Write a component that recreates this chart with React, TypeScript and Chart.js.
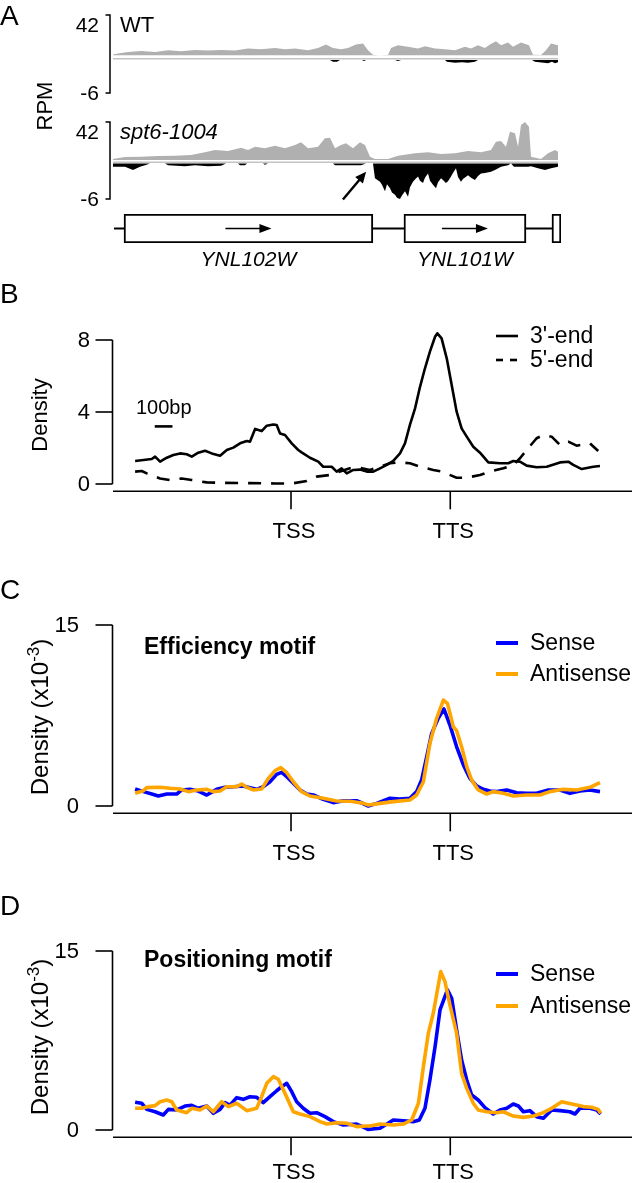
import React, { useEffect, useRef } from 'react';
import { Chart, registerables } from 'chart.js';

Chart.register(...registerables);

const FONT = '"Liberation Sans", Arial, Helvetica, sans-serif';

// ================= Panel A: RPM tracks (position = bp from window start) =================
const trackPosMax = 42;
const trackNegMin = -6;
const locusEnd = 7930;
const geneNames = ['YNL102W', 'YNL101W', ''];
const geneStarts = [195, 5150, 7770];
const geneEnds = [4600, 7310, 7930];

const wtPlus: [number, number][] = [
  [0, 0.8], [89, 1.8], [266, 3.5], [496, 4.6], [743, 3.5], [974, 5.3], [1204, 4.2], [1451, 5.6],
  [1682, 4.9], [1912, 5.6], [2159, 4.9], [2390, 7.0], [2620, 6.3], [2867, 7.7], [3044, 6.3],
  [3221, 7.0], [3452, 5.3], [3629, 7.7], [3770, 11.2], [3894, 7.7], [4036, 6.3], [4160, 7.7],
  [4301, 11.2], [4425, 12.3], [4514, 5.3], [4602, 0.7], [4691, 0], [4868, 0.2], [4921, 7.7],
  [5045, 10.5], [5222, 8.8], [5399, 7.0], [5522, 9.5], [5699, 7.0], [5876, 6.3], [6053, 5.3],
  [6230, 8.8], [6337, 7.0], [6461, 10.5], [6584, 7.7], [6673, 11.2], [6779, 14.7], [6868, 10.5],
  [6992, 13.3], [7080, 8.8], [7222, 13.3], [7363, 10.5], [7434, 0.7], [7576, 0.3], [7664, 5.3],
  [7753, 12.3], [7877, 10.5],
];
const wtMinus: [number, number][] = [
  [0, 0], [3841, 0], [3894, -0.3], [3965, -0.3], [4018, 0], [4407, 0], [4443, -0.2], [4478, 0],
  [4991, 0], [5045, -0.2], [5098, 0], [5876, 0], [5912, -0.3], [6053, -0.5], [6177, -0.4],
  [6284, -0.5], [6407, -0.3], [6461, 0], [7416, 0], [7469, -0.3], [7700, -0.6], [7770, -0.3],
  [7823, -0.6], [7877, -0.4],
];
const spt6Plus: [number, number][] = [
  [0, 1.1], [212, 3.3], [496, 3.7], [797, 4.4], [1097, 4.8], [1381, 5.5], [1628, 8.5], [1805, 11],
  [2036, 9.9], [2266, 13.6], [2390, 11], [2513, 14.7], [2690, 12.9], [2867, 15.8], [3044, 12.9],
  [3221, 16.6], [3328, 19.6], [3452, 12.9], [3629, 14.7], [3752, 24], [3841, 24.6], [3929, 12.9],
  [4036, 16.6], [4124, 18.5], [4248, 12.9], [4372, 19.6], [4460, 16.6], [4549, 3.7], [4637, 1.1],
  [4868, 1.1], [5045, 4.8], [5345, 7.4], [5576, 8.5], [5806, 6.6], [6053, 7.4], [6284, 9.9],
  [6514, 8.5], [6691, 11], [6779, 20.2], [6868, 21], [6956, 14.7], [7027, 31.3], [7115, 29.5],
  [7169, 14.7], [7222, 38.7], [7292, 42], [7363, 36.8], [7399, 3.7], [7576, 1.1], [7700, 7.4],
  [7823, 11], [7877, 9.2],
];
const spt6Minus: [number, number][] = [
  [0, -0.56], [212, -0.56], [354, -1.1], [478, -0.56], [566, -0.28], [655, 0], [920, 0],
  [974, -0.28], [1274, -0.45], [1451, -0.28], [1682, -0.45], [1912, -0.4], [2000, 0], [2213, 0],
  [2248, -0.3], [2336, -0.3], [2372, 0], [2655, 0], [2690, -0.2], [2744, 0], [3894, 0],
  [3929, -0.28], [4390, -0.28], [4478, 0], [4602, 0], [4637, -2.5], [4726, -3.1], [4761, -3.6],
  [4814, -4.7], [4850, -3.5], [4903, -4.2], [4938, -4.9], [4991, -5.3], [5027, -5.8], [5080, -6],
  [5115, -5.4], [5168, -4.7], [5222, -5.6], [5257, -4.0], [5310, -3.1], [5345, -2.7], [5399, -2.2],
  [5434, -2.9], [5487, -3.3], [5522, -2.4], [5576, -1.7], [5611, -2.9], [5664, -3.6], [5717, -4.2],
  [5752, -3.2], [5806, -2.5], [5841, -2.8], [5894, -3.3], [5930, -3.0], [5983, -2.2], [6018, -1.6],
  [6071, -0.8], [6107, -2.3], [6160, -3.1], [6195, -2.6], [6284, -2.0], [6337, -2.4], [6407, -2.8],
  [6461, -2.1], [6514, -1.7], [6584, -1.6], [6691, -1.4], [6761, -1.1], [6868, -0.56], [6992, -0.28],
  [7045, 0], [7098, -0.56], [7346, -0.56], [7399, -0.45], [7523, -0.8], [7646, -1.1], [7753, -0.8],
  [7877, -0.56],
];
// arrow annotation (bp, RPM on minus-strand scale)
const arrowFrom: [number, number] = [4070, -6.1];
const arrowTo: [number, number] = [4480, -1.4];

// ================= Metagene panels (bp relative to TSS; TTS scaled to 900) =================
const mgTicks = [0, 900];
const mgTickLabels = ['TSS', 'TTS'];
const scaleBarBp = 100;

const bYTicks = [0, 4, 8];
const b3End: [number, number][] = [
  [-881, 1.28], [-834, 1.33], [-787, 1.39], [-768, 1.52], [-740, 1.24], [-702, 1.46], [-665, 1.61],
  [-627, 1.70], [-589, 1.65], [-561, 1.52], [-524, 1.74], [-486, 1.85], [-448, 1.70], [-401, 1.57],
  [-363, 1.89], [-326, 2.02], [-288, 2.26], [-250, 2.39], [-232, 2.35], [-203, 3.06], [-166, 2.94],
  [-137, 3.24], [-100, 3.31], [-81, 3.28], [-62, 2.81], [-34, 2.72], [4, 2.26], [41, 1.89],
  [60, 1.76], [107, 1.46], [154, 1.24], [182, 0.96], [230, 0.96], [258, 0.69], [286, 0.87],
  [315, 0.59], [352, 0.78], [390, 0.80], [428, 0.69], [465, 0.69], [503, 0.87], [541, 1.06],
  [578, 1.28], [616, 1.70], [644, 2.26], [672, 3.28], [701, 4.2], [729, 5.4], [757, 6.43],
  [785, 7.35], [814, 8.18], [827, 8.37], [851, 8.09], [880, 6.98], [908, 5.5], [936, 4.02],
  [964, 3.09], [993, 2.63], [1030, 2.07], [1068, 1.74], [1115, 1.20], [1181, 1.15], [1228, 1.15],
  [1256, 1.28], [1294, 1.24], [1332, 1.02], [1388, 0.93], [1445, 0.96], [1520, 1.20], [1567, 1.24],
  [1595, 1.06], [1643, 0.83], [1708, 0.96], [1746, 1.0],
];
const b5End: [number, number][] = [
  [-881, 0.69], [-844, 0.72], [-815, 0.59], [-740, 0.31], [-684, 0.22], [-618, 0.31], [-561, 0.22],
  [-476, 0.09], [-373, 0.06], [-232, 0.05], [-90, 0.03], [0, 0.02], [89, 0.17], [145, 0.41],
  [220, 0.5], [277, 0.69], [333, 0.87], [390, 0.9], [446, 0.78], [503, 0.96], [559, 1.15],
  [616, 1.20], [672, 1.15], [729, 0.96], [804, 0.78], [851, 0.69], [936, 0.35], [993, 0.35],
  [1068, 0.5], [1124, 0.69], [1200, 0.87], [1256, 1.06], [1294, 1.43], [1332, 1.89], [1388, 2.54],
  [1425, 2.72], [1473, 2.63], [1520, 2.17], [1567, 2.35], [1614, 2.13], [1689, 2.26], [1736, 1.83],
];

const motifYTicks = [0, 15];
const cSense: [number, number][] = [
  [-881, 1.41], [-834, 1.19], [-787, 0.99], [-750, 0.83], [-702, 0.99], [-646, 0.99], [-618, 1.33],
  [-571, 1.38], [-524, 1.24], [-476, 0.91], [-420, 1.38], [-373, 1.55], [-326, 1.60], [-270, 1.66],
  [-232, 1.52], [-194, 1.38], [-157, 1.60], [-119, 2.01], [-81, 2.62], [-53, 2.79], [-24, 2.43],
  [13, 1.88], [51, 1.33], [89, 0.99], [126, 0.91], [182, 0.55], [239, 0.28], [296, 0.44],
  [371, 0.44], [437, 0.0], [484, 0.22], [559, 0.64], [616, 0.58], [672, 0.64], [710, 1.19],
  [738, 2.15], [767, 4.09], [795, 6.02], [832, 7.27], [864, 8.04], [898, 6.71], [936, 4.91],
  [974, 3.40], [1011, 2.29], [1049, 1.66], [1087, 1.38], [1124, 1.24], [1162, 1.19], [1219, 1.33],
  [1275, 1.10], [1332, 1.05], [1388, 1.05], [1454, 1.33], [1520, 1.33], [1576, 1.05], [1633, 1.24],
  [1689, 1.33], [1746, 1.19],
];
const cAntisense: [number, number][] = [
  [-881, 1.05], [-834, 1.27], [-815, 1.52], [-740, 1.55], [-684, 1.47], [-627, 1.41], [-580, 1.19],
  [-533, 1.33], [-476, 1.38], [-439, 1.19], [-401, 1.24], [-363, 1.60], [-307, 1.60], [-279, 1.82],
  [-250, 1.55], [-213, 1.33], [-166, 1.41], [-128, 2.29], [-90, 2.93], [-58, 3.18], [-24, 2.76],
  [13, 2.01], [60, 1.19], [107, 0.83], [182, 0.64], [258, 0.41], [333, 0.39], [409, 0.22],
  [437, 0.08], [503, 0.22], [578, 0.36], [672, 0.50], [710, 0.91], [748, 2.01], [785, 5.19],
  [823, 7.27], [861, 8.78], [884, 8.51], [917, 6.57], [936, 6.24], [964, 4.91], [993, 3.26],
  [1021, 2.15], [1058, 1.33], [1106, 0.99], [1143, 1.19], [1200, 1.05], [1256, 0.83], [1332, 0.91],
  [1407, 0.91], [1463, 1.19], [1539, 1.38], [1614, 1.33], [1689, 1.55], [1746, 1.93],
];
const dSense: [number, number][] = [
  [-881, 2.32], [-844, 2.24], [-815, 1.73], [-768, 1.53], [-722, 1.26], [-693, 1.73], [-646, 1.68],
  [-599, 2.01], [-561, 2.07], [-524, 1.82], [-476, 2.01], [-439, 1.40], [-401, 1.73], [-373, 2.29],
  [-345, 2.07], [-307, 2.71], [-270, 2.57], [-232, 2.79], [-194, 2.74], [-157, 2.29], [-119, 2.79],
  [-81, 3.29], [-53, 3.63], [-24, 3.91], [4, 3.21], [32, 2.37], [69, 1.82], [107, 1.40], [145, 1.45],
  [192, 1.12], [239, 0.70], [296, 0.42], [371, 0.50], [400, 0.3], [435, 0.05], [503, 0.14],
  [578, 0.84], [635, 0.78], [691, 0.70], [725, 0.84], [757, 1.82], [785, 4.19], [814, 6.98],
  [842, 10.06], [884, 11.74], [908, 11.04], [936, 8.38], [964, 5.87], [993, 4.19], [1021, 2.93],
  [1058, 2.51], [1096, 1.87], [1143, 1.34], [1181, 1.68], [1219, 1.82], [1256, 2.18], [1285, 2.01],
  [1313, 1.53], [1350, 1.62], [1388, 1.12], [1426, 0.98], [1473, 1.68], [1520, 1.62], [1576, 1.53],
  [1605, 1.34], [1633, 1.82], [1689, 1.82], [1727, 1.68], [1750, 1.34],
];
const dAntisense: [number, number][] = [
  [-881, 1.82], [-844, 1.82], [-806, 1.96], [-768, 2.04], [-740, 2.37], [-702, 2.51], [-674, 2.37],
  [-646, 1.68], [-590, 1.45], [-561, 1.82], [-514, 1.68], [-476, 2.01], [-439, 1.53], [-392, 2.37],
  [-354, 1.96], [-307, 2.24], [-250, 1.62], [-194, 1.82], [-166, 2.79], [-137, 3.91], [-100, 4.47],
  [-72, 4.25], [-34, 3.07], [13, 1.53], [51, 1.34], [107, 1.12], [164, 0.70], [202, 0.50],
  [258, 0.61], [315, 0.56], [371, 0.28], [428, 0.34], [446, 0.34], [503, 0.50], [578, 0.42],
  [635, 0.50], [682, 0.84], [720, 2.24], [748, 5.31], [776, 8.10], [804, 9.78], [846, 13.27],
  [870, 12.43], [898, 10.48], [936, 8.10], [964, 4.75], [993, 3.49], [1030, 2.24], [1058, 1.68],
  [1106, 1.53], [1162, 1.45], [1200, 1.53], [1256, 1.17], [1313, 1.06], [1370, 1.17], [1425, 1.45],
  [1473, 1.82], [1530, 2.37], [1567, 2.24], [1614, 2.09], [1652, 1.96], [1699, 1.90], [1736, 1.73],
  [1750, 1.40],
];

// ================= layout / style constants =================
const W = 633;
const MG_MIN = -1006;
const MG_MAX = 1927;
const AX_LEFT = 113;
const AX_RIGHT = 632;
const TRACK_LEFT = 113;
const TRACK_RIGHT = 561;
const BLUE = '#0000ff';
const ORANGE = '#ffa500';
const GRAY = '#b0b0b0';

function font(size: number, style = '') {
  return `${style} ${size}px ${FONT}`.trim();
}
function txt(ctx: CanvasRenderingContext2D, s: string, x: number, y: number, size: number,
  o: { align?: CanvasTextAlign; baseline?: CanvasTextBaseline; style?: string; color?: string } = {}) {
  ctx.save();
  ctx.font = font(size, o.style || '');
  ctx.textAlign = o.align || 'left';
  ctx.textBaseline = o.baseline || 'alphabetic';
  ctx.fillStyle = o.color || '#000';
  ctx.fillText(s, x, y);
  ctx.restore();
}
function seg(ctx: CanvasRenderingContext2D, x1: number, y1: number, x2: number, y2: number) {
  ctx.beginPath();
  ctx.moveTo(x1, y1);
  ctx.lineTo(x2, y2);
  ctx.stroke();
}
function rotLabel(ctx: CanvasRenderingContext2D, x: number, cy: number, main: string, size: number,
  sup?: string, supSize?: number) {
  ctx.save();
  ctx.translate(x, cy);
  ctx.rotate(-Math.PI / 2);
  ctx.fillStyle = '#000';
  ctx.textAlign = 'left';
  ctx.textBaseline = 'alphabetic';
  ctx.font = font(size);
  const w1 = ctx.measureText(main).width;
  let w2 = 0;
  let w3 = 0;
  if (sup) {
    ctx.font = font(supSize || size);
    w2 = ctx.measureText(sup).width;
    ctx.font = font(size);
    w3 = ctx.measureText(')').width;
  }
  let cx = -(w1 + w2 + w3) / 2;
  ctx.font = font(size);
  ctx.fillText(main, cx, 0);
  cx += w1;
  if (sup) {
    ctx.font = font(supSize || size);
    ctx.fillText(sup, cx, -size * 0.38);
    cx += w2;
    ctx.font = font(size);
    ctx.fillText(')', cx, 0);
  }
  ctx.restore();
}
function arrowHead(ctx: CanvasRenderingContext2D, x1: number, y1: number, x2: number, y2: number, len: number, half: number) {
  const a = Math.atan2(y2 - y1, x2 - x1);
  ctx.beginPath();
  ctx.moveTo(x2, y2);
  ctx.lineTo(x2 - len * Math.cos(a) + half * Math.sin(a), y2 - len * Math.sin(a) - half * Math.cos(a));
  ctx.lineTo(x2 - len * Math.cos(a) - half * Math.sin(a), y2 - len * Math.sin(a) + half * Math.cos(a));
  ctx.closePath();
  ctx.fill();
}

const baseOptions = {
  responsive: false,
  animation: false,
  events: [] as string[],
  plugins: { legend: { display: false }, tooltip: { enabled: false }, title: { display: false } },
};

// ---------- track chart ----------
interface TrackSpec {
  top: number; height: number;
  pxTop: number; pxZeroPos: number; pxZeroNeg: number; pxBottom: number;
  plus: [number, number][]; minus: [number, number][];
  label: string; labelItalic: boolean;
  extra?: (ctx: CanvasRenderingContext2D, chart: any) => void;
}
function trackConfig(s: TrackSpec) {
  const posPpu = (s.pxZeroPos - s.pxTop) / trackPosMax;
  const yPmin = -(s.pxBottom - s.pxZeroPos) / posPpu;
  const negPpu = (s.pxBottom - s.pxZeroNeg) / -trackNegMin;
  const yNmax = (s.pxZeroNeg - s.pxTop) / negPpu;
  const trackEnd = s.plus[s.plus.length - 1][0];
  return {
    type: 'line',
    data: {
      datasets: [
        { data: s.plus.map(([x, y]) => ({ x, y })), yAxisID: 'yP', fill: 'origin', backgroundColor: GRAY, borderWidth: 0, pointRadius: 0, tension: 0 },
        { data: s.minus.map(([x, y]) => ({ x, y })), yAxisID: 'yN', fill: 'origin', backgroundColor: '#000', borderWidth: 0, pointRadius: 0, tension: 0 },
      ],
    },
    options: {
      ...baseOptions,
      layout: { padding: { left: TRACK_LEFT, right: W - TRACK_RIGHT, top: s.pxTop - s.top, bottom: s.height - (s.pxBottom - s.top) } },
      scales: {
        x: { type: 'linear', min: 0, max: locusEnd, display: false },
        yP: { type: 'linear', position: 'left', min: yPmin, max: trackPosMax, display: false },
        yN: { type: 'linear', position: 'left', min: trackNegMin, max: yNmax, display: false },
      },
    },
    plugins: [{
      id: 'track',
      afterDatasetsDraw(chart: any) {
        const ctx: CanvasRenderingContext2D = chart.ctx;
        const { left } = chart.chartArea;
        const yP = chart.scales.yP;
        const yN = chart.scales.yN;
        const xs = chart.scales.x;
        ctx.save();
        ctx.strokeStyle = '#c4c4c4';
        ctx.lineWidth = 1.6;
        const by = yN.getPixelForValue(0) - 1.3;
        seg(ctx, left, by, xs.getPixelForValue(trackEnd), by);
        ctx.strokeStyle = '#000';
        ctx.lineWidth = 1.5;
        const top = yP.getPixelForValue(trackPosMax);
        const bot = yN.getPixelForValue(trackNegMin);
        ctx.beginPath();
        ctx.moveTo(left - 7.5, top);
        ctx.lineTo(left - 3, top);
        ctx.lineTo(left - 3, bot);
        ctx.lineTo(left - 7.5, bot);
        ctx.stroke();
        txt(ctx, String(trackPosMax), 99, top + 16.5, 21, { align: 'right' });
        txt(ctx, String(trackNegMin), 99, bot + 7, 21, { align: 'right' });
        txt(ctx, s.label, 120, top + 16.5, 22, { style: s.labelItalic ? 'italic' : '' });
        if (s.extra) s.extra(ctx, chart);
        ctx.restore();
      },
    }],
  };
}

function geneConfig(top: number, height: number) {
  const boxTop = 214;
  const boxBottom = 243;
  return {
    type: 'bar',
    data: {
      labels: ['locus'],
      datasets: [{
        data: geneStarts.map((st, i) => ({ x: [st, geneEnds[i]], y: 'locus' })),
        backgroundColor: '#fff', borderColor: '#000', borderWidth: 2, borderSkipped: false,
        barPercentage: 1, categoryPercentage: 1,
      }],
    },
    options: {
      ...baseOptions,
      indexAxis: 'y',
      layout: { padding: { left: TRACK_LEFT, right: W - TRACK_RIGHT, top: boxTop - top, bottom: height - (boxBottom - top) } },
      scales: {
        x: { type: 'linear', min: 0, max: locusEnd, display: false },
        y: { type: 'category', display: false },
      },
    },
    plugins: [{
      id: 'genes',
      beforeDatasetsDraw(chart: any) {
        const ctx: CanvasRenderingContext2D = chart.ctx;
        const xs = chart.scales.x;
        const cy = (chart.chartArea.top + chart.chartArea.bottom) / 2;
        ctx.save();
        ctx.strokeStyle = '#000';
        ctx.lineWidth = 1.8;
        seg(ctx, xs.getPixelForValue(0) + 1, cy, xs.getPixelForValue(locusEnd), cy);
        ctx.restore();
      },
      afterDatasetsDraw(chart: any) {
        const ctx: CanvasRenderingContext2D = chart.ctx;
        const xs = chart.scales.x;
        const cy = (chart.chartArea.top + chart.chartArea.bottom) / 2;
        ctx.save();
        ctx.strokeStyle = '#000';
        ctx.fillStyle = '#000';
        ctx.lineWidth = 1.6;
        geneNames.forEach((name, i) => {
          if (!name) return;
          const c = xs.getPixelForValue((geneStarts[i] + geneEnds[i]) / 2);
          seg(ctx, c - 23, cy, c + 14, cy);
          arrowHead(ctx, c - 23, cy, c + 23, cy, 12, 4.5);
          txt(ctx, name, c, 266 - top, 21, { align: 'center', style: 'italic' });
        });
        ctx.restore();
      },
    }],
  };
}

// ---------- metagene panels ----------
interface Series { pts: [number, number][]; color: string; width: number; dash?: number[]; order: number; }
interface LegendItem { label: string; color: string; width: number; dash?: number[]; y: number; }
interface PanelSpec {
  top: number; height: number;
  zeroPx: number; refVal: number; refPx: number; yMin: number; yMax: number;
  series: Series[];
  letter: string; letterBaseline: number;
  yTicks: number[]; yLabelRight: number;
  yTitle: string; yTitleSup?: string; yTitleSize: number; yTitleX: number; yTitleCenter: number;
  title?: string; titleBaseline?: number;
  legend: LegendItem[];
  xLabelOffset: number;
  extra?: (ctx: CanvasRenderingContext2D, chart: any) => void;
}
function panelConfig(s: PanelSpec) {
  const ppu = (s.zeroPx - s.refPx) / s.refVal;
  const padTop = s.zeroPx - s.yMax * ppu - s.top;
  const padBottom = s.height - (s.zeroPx - s.yMin * ppu - s.top);
  const T = s.top;
  return {
    type: 'line',
    data: {
      datasets: s.series.map((d) => ({
        data: d.pts.map(([x, y]) => ({ x, y })),
        borderColor: d.color, borderWidth: d.width, borderDash: d.dash || [],
        pointRadius: 0, fill: false, tension: 0, order: d.order,
        borderJoinStyle: 'round', borderCapStyle: 'butt',
      })),
    },
    options: {
      ...baseOptions,
      layout: { padding: { left: AX_LEFT, right: W - AX_RIGHT, top: padTop, bottom: padBottom } },
      scales: {
        x: { type: 'linear', min: MG_MIN, max: MG_MAX, display: false },
        y: { type: 'linear', min: s.yMin, max: s.yMax, display: false },
      },
    },
    plugins: [{
      id: 'panel' + s.letter,
      afterDraw(chart: any) {
        const ctx: CanvasRenderingContext2D = chart.ctx;
        const xs = chart.scales.x;
        const ys = chart.scales.y;
        const area = chart.chartArea;
        ctx.save();
        ctx.strokeStyle = '#000';
        ctx.fillStyle = '#000';
        ctx.lineWidth = 1.6;
        // y axis
        const yax = area.left - 0.5;
        seg(ctx, yax, ys.getPixelForValue(s.yTicks[0]), yax, ys.getPixelForValue(s.yTicks[s.yTicks.length - 1]));
        s.yTicks.forEach((v) => {
          const py = ys.getPixelForValue(v);
          seg(ctx, yax - 17, py, yax, py);
          txt(ctx, String(v), s.yLabelRight, py + 1, 22, { align: 'right', baseline: 'middle' });
        });
        // x axis
        const axY = ys.getPixelForValue(0) + 7.3;
        seg(ctx, area.left, axY, area.right, axY);
        mgTicks.forEach((v, i) => {
          const px = xs.getPixelForValue(v);
          seg(ctx, px, axY, px, axY + 18);
          txt(ctx, mgTickLabels[i], px + 3, axY + s.xLabelOffset, 22, { align: 'center', baseline: 'middle' });
        });
        // panel letter
        txt(ctx, s.letter, 0, s.letterBaseline - T, 28);
        // y title
        rotLabel(ctx, s.yTitleX, s.yTitleCenter - T, s.yTitle, s.yTitleSize, s.yTitleSup, 17);
        // title
        if (s.title) txt(ctx, s.title, 144, (s.titleBaseline || 0) - T, 23, { style: 'bold' });
        // legend
        s.legend.forEach((it) => {
          ctx.save();
          ctx.strokeStyle = it.color;
          ctx.lineWidth = it.width;
          ctx.setLineDash(it.dash || []);
          seg(ctx, 496, it.y - T, 518, it.y - T);
          ctx.restore();
          txt(ctx, it.label, 530, it.y - T + 1, 23, { baseline: 'middle' });
        });
        if (s.extra) s.extra(ctx, chart);
        ctx.restore();
      },
    }],
  };
}

const panelB: PanelSpec = {
  top: 280, height: 265, zeroPx: 484, refVal: 8, refPx: 340, yMin: -0.5, yMax: 9.5,
  series: [
    { pts: b3End, color: '#000', width: 2.6, order: 0 },
    { pts: b5End, color: '#000', width: 2.6, dash: [13, 10], order: 1 },
  ],
  letter: 'B', letterBaseline: 303,
  yTicks: bYTicks, yLabelRight: 90,
  yTitle: 'Density', yTitleSize: 22, yTitleX: 47, yTitleCenter: 415,
  legend: [
    { label: "3'-end", color: '#000', width: 2.6, y: 336 },
    { label: "5'-end", color: '#000', width: 2.6, dash: [7, 7], y: 360 },
  ],
  xLabelOffset: 41,
  extra: (ctx, chart) => {
    const xs = chart.scales.x;
    const ys = chart.scales.y;
    const x0 = xs.getPixelForValue(-770);
    const x1 = xs.getPixelForValue(-770 + scaleBarBp);
    const y = ys.getPixelForValue(3.2);
    ctx.save();
    ctx.lineWidth = 2.6;
    ctx.strokeStyle = '#000';
    seg(ctx, x0, y, x1, y);
    ctx.restore();
    txt(ctx, `${scaleBarBp}bp`, 136, 414 - 280, 20);
  },
};

const panelC: PanelSpec = {
  top: 560, height: 320, zeroPx: 806, refVal: 15, refPx: 625, yMin: -0.7, yMax: 16,
  series: [
    { pts: cSense, color: BLUE, width: 3.6, order: 1 },
    { pts: cAntisense, color: ORANGE, width: 3.6, order: 0 },
  ],
  letter: 'C', letterBaseline: 599,
  yTicks: motifYTicks, yLabelRight: 79,
  yTitle: 'Density (x10', yTitleSup: '-3', yTitleSize: 24, yTitleX: 48, yTitleCenter: 717,
  title: 'Efficiency motif', titleBaseline: 654,
  legend: [
    { label: 'Sense', color: BLUE, width: 4, y: 643 },
    { label: 'Antisense', color: ORANGE, width: 4, y: 674 },
  ],
  xLabelOffset: 41,
};

const panelD: PanelSpec = {
  top: 880, height: 303, zeroPx: 1130, refVal: 15, refPx: 951, yMin: -0.7, yMax: 16,
  series: [
    { pts: dSense, color: BLUE, width: 3.6, order: 1 },
    { pts: dAntisense, color: ORANGE, width: 3.6, order: 0 },
  ],
  letter: 'D', letterBaseline: 915,
  yTicks: motifYTicks, yLabelRight: 79,
  yTitle: 'Density (x10', yTitleSup: '-3', yTitleSize: 24, yTitleX: 48, yTitleCenter: 1037,
  title: 'Positioning motif', titleBaseline: 967,
  legend: [
    { label: 'Sense', color: BLUE, width: 4, y: 974 },
    { label: 'Antisense', color: ORANGE, width: 4, y: 1006 },
  ],
  xLabelOffset: 36,
};

const trackWT: TrackSpec = {
  top: 0, height: 135, pxTop: 15, pxZeroPos: 55.3, pxZeroNeg: 60, pxBottom: 93,
  plus: wtPlus, minus: wtMinus, label: 'WT', labelItalic: false,
  extra: (ctx) => {
    txt(ctx, 'A', 0, 25, 28);
    rotLabel(ctx, 52, 106, 'RPM', 22);
  },
};
const trackSpt6: TrackSpec = {
  top: 110, height: 100, pxTop: 122, pxZeroPos: 160, pxZeroNeg: 163.5, pxBottom: 199,
  plus: spt6Plus, minus: spt6Minus, label: 'spt6-1004', labelItalic: true,
  extra: (ctx, chart) => {
    const xs = chart.scales.x;
    const yN = chart.scales.yN;
    const x1 = xs.getPixelForValue(arrowFrom[0]);
    const y1 = yN.getPixelForValue(arrowFrom[1]);
    const x2 = xs.getPixelForValue(arrowTo[0]);
    const y2 = yN.getPixelForValue(arrowTo[1]);
    ctx.save();
    ctx.strokeStyle = '#000';
    ctx.fillStyle = '#000';
    ctx.lineWidth = 2.4;
    const a = Math.atan2(y2 - y1, x2 - x1);
    seg(ctx, x1, y1, x2 - 8 * Math.cos(a), y2 - 8 * Math.sin(a));
    arrowHead(ctx, x1, y1, x2, y2, 11, 5);
    ctx.restore();
  },
};

function ChartBox({ top, height, make }: { top: number; height: number; make: () => any }) {
  const ref = useRef<HTMLCanvasElement>(null);
  useEffect(() => {
    const chart = new Chart(ref.current as HTMLCanvasElement, make());
    return () => chart.destroy();
  }, []);
  return (
    <canvas
      ref={ref}
      width={W}
      height={height}
      style={{ position: 'absolute', left: 0, top, width: W, height, display: 'block' }}
    />
  );
}

export default function App() {
  return (
    <div style={{ position: 'absolute', left: 0, top: 0, width: W, height: 1183, background: '#fff', overflow: 'hidden' }}>
      <ChartBox top={trackWT.top} height={trackWT.height} make={() => trackConfig(trackWT)} />
      <ChartBox top={trackSpt6.top} height={trackSpt6.height} make={() => trackConfig(trackSpt6)} />
      <ChartBox top={205} height={75} make={() => geneConfig(205, 75)} />
      <ChartBox top={panelB.top} height={panelB.height} make={() => panelConfig(panelB)} />
      <ChartBox top={panelC.top} height={panelC.height} make={() => panelConfig(panelC)} />
      <ChartBox top={panelD.top} height={panelD.height} make={() => panelConfig(panelD)} />
    </div>
  );
}
